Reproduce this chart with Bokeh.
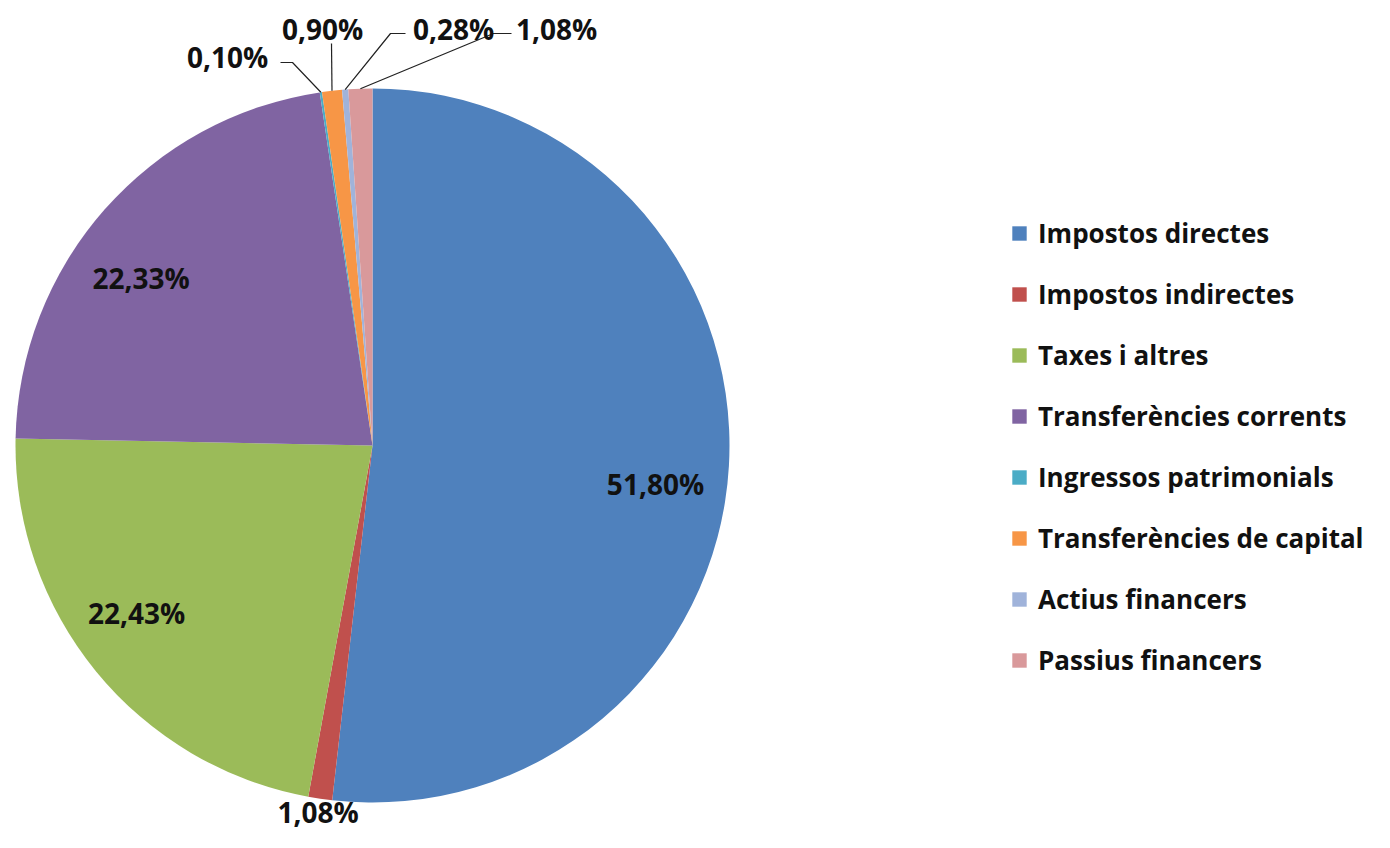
import math
from bokeh.plotting import figure
from bokeh.models import ColumnDataSource, Range1d, Legend, LegendItem
from bokeh.core.properties import value
from bokeh.embed import file_html
from bokeh.resources import INLINE

# ---- data ----
categories = ["Impostos directes", "Impostos indirectes", "Taxes i altres",
              "Transferències corrents", "Ingressos patrimonials",
              "Transferències de capital", "Actius financers", "Passius financers"]
shares = [51.80, 1.08, 22.43, 22.33, 0.10, 0.90, 0.28, 1.08]
labels = ["51,80%", "1,08%", "22,43%", "22,33%", "0,10%", "0,90%", "0,28%", "1,08%"]
colors = ["#4F81BD", "#C0504D", "#9BBB59", "#8064A2", "#4BACC6", "#F79646",
          "#A0B3DA", "#D9999B"]

W, H = 1374, 832
FONT = "Open Sans"

# data units = picture pixels (x right, y measured upward from the bottom of an 848px picture)
p = figure(width=W, height=H, output_backend="svg", toolbar_location=None,
           x_range=Range1d(0, W), y_range=Range1d(848 - H, 848),
           min_border=0)
p.axis.visible = False
p.grid.visible = False
p.outline_line_color = None
p.background_fill_color = "white"

cx, cy, R = 372, 848 - 445, 357

total = sum(shares)
cum = [0.0]
for s in shares:
    cum.append(cum[-1] + s / total)
start = [math.pi / 2 - 2 * math.pi * cum[i + 1] for i in range(len(shares))]
end = [math.pi / 2 - 2 * math.pi * cum[i] for i in range(len(shares))]
mid = [(cum[i] + cum[i + 1]) / 2 for i in range(len(shares))]

src = ColumnDataSource(dict(cat=categories, start=start, end=end, color=colors))
wr = p.wedge(x=cx, y=cy, radius=R, start_angle="start", end_angle="end",
             direction="anticlock", fill_color="color", line_color=None, source=src)

def polar(frac, r, deg_off=0.0):
    th = 2 * math.pi * frac + math.radians(deg_off)
    return cx + r * math.sin(th), cy + r * math.cos(th)

inside = {0: (0.80, 4.5), 2: (0.81, 3.9), 3: (0.80, -5.4)}
outside_top = {4: (227, 848 - 56, [(292, 848 - 62), (280, 848 - 62)]),
               5: (322, 848 - 28, [(331, 848 - 43)]),
               6: (453, 848 - 28, [(390, 848 - 33), (405, 848 - 33)]),
               7: (556, 848 - 28, [(493, 848 - 33), (511, 848 - 33)])}

lx, ly, lt = [], [], []
for i in range(len(shares)):
    if i in inside:
        rf, off = inside[i]
        x, y = polar(mid[i], rf * R, off)
    elif i in outside_top:
        x, y, pts = outside_top[i]
        ax, ay = polar(mid[i], R)
        xs = [ax] + [q[0] for q in pts]
        ys = [ay] + [q[1] for q in pts]
        p.line(xs, ys, line_color="#222222", line_width=1.2)
    else:
        x, y = polar(mid[i], R + 14)
    lx.append(x); ly.append(y); lt.append(labels[i])

p.text(x=lx, y=ly, text=lt, text_align="center", text_baseline="middle",
       text_font=value(FONT), text_font_style="bold", text_font_size="28px",
       text_color="#111111")

items = [LegendItem(label=c, renderers=[wr], index=i) for i, c in enumerate(categories)]
legend = Legend(items=items, location=(1010, 152), orientation="vertical",
                glyph_width=18, glyph_height=18, label_standoff=10,
                label_height=40, spacing=21, padding=0, margin=0,
                label_text_font=FONT, label_text_font_style="bold",
                label_text_font_size="26px", label_text_color="#111111",
                border_line_color=None, background_fill_alpha=0)
p.add_layout(legend, "center")

open("out.html", "w").write(file_html(p, INLINE))
